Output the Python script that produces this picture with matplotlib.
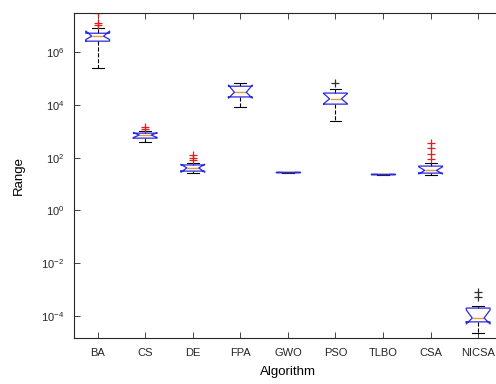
import matplotlib.pyplot as plt
import numpy as np

plt.rcParams['font.family'] = ['Liberation Sans', 'DejaVu Sans']
plt.rcParams['mathtext.default'] = 'regular'

algorithms = ['BA', 'CS', 'DE', 'FPA', 'GWO', 'PSO', 'TLBO', 'CSA', 'NICSA']

# box statistics per algorithm (range values, log scale)
q1 = [2.6e6, 5.5e2, 31, 2.0e4, 27.5, 1.07e4, 23.5, 26, 6.0e-5]
med = [4.0e6, 7.2e2, 41, 3.0e4, 28, 1.7e4, 24, 33, 8.4e-5]
q3 = [5.2e6, 8.5e2, 53, 5.1e4, 28.5, 2.8e4, 24.5, 48, 2.0e-4]
ci_lo = [3.0e6, 5.8e2, 28, 1.8e4, 28, 1.1e4, 24, 24, 5.0e-5]
ci_hi = [6.3e6, 8.8e2, 56, 5.6e4, 28, 2.7e4, 24, 45, 1.7e-4]
whis_lo = [2.5e5, 3.9e2, 26, 8.3e3, 27, 2.4e3, 23, 22, 2.3e-5]
whis_hi = [8.1e6, 1.0e3, 63, 6.7e4, 29, 4.0e4, 25, 63, 2.4e-4]
outliers = [
    [1.1e7, 1.3e7, 3.0e7],
    [1.2e3, 1.45e3],
    [81, 96, 126],
    [],
    [],
    [6.8e4],
    [],
    [89, 137, 230, 355],
    [5.2e-4, 8.1e-4],
]
flier_red = [True, True, True, False, False, False, False, True, False]

stats = []
for i, name in enumerate(algorithms):
    stats.append(dict(label=name, q1=q1[i], med=med[i], q3=q3[i],
                      cilo=ci_lo[i], cihi=ci_hi[i],
                      whislo=whis_lo[i], whishi=whis_hi[i],
                      fliers=np.array(outliers[i])))

fig = plt.figure(figsize=(4.96, 3.84), dpi=100)
ax = fig.add_axes([0.149, 0.12, 0.863, 0.846])

bp = ax.bxp(stats, positions=np.arange(1, len(algorithms) + 1), widths=0.5,
            shownotches=True, patch_artist=False,
            boxprops=dict(color='#2a2ae0', linewidth=0.9, zorder=3),
            medianprops=dict(color='#e89a3c', linewidth=1.0, zorder=2),
            whiskerprops=dict(color='black', linewidth=0.8, linestyle='--'),
            capprops=dict(color='black', linewidth=0.8),
            flierprops=dict(marker='+', markersize=6, markeredgewidth=0.9,
                            linestyle='none'))
for fl, red in zip(bp['fliers'], flier_red):
    fl.set_markeredgecolor('#e02020' if red else '#303030')

# caps as wide as half the box
for cap in bp['caps']:
    x0, x1 = cap.get_xdata()
    c = (x0 + x1) / 2
    cap.set_xdata([c - 0.125, c + 0.125])

ax.set_yscale('log')
ax.set_ylim(10 ** -4.83, 10 ** 7.48)
ax.set_xlim(0.5, 9.5)
ax.set_yticks([1e-4, 1e-2, 1e0, 1e2, 1e4, 1e6])
ax.yaxis.set_minor_locator(plt.NullLocator())
ax.set_xticks(np.arange(1, 10))
ax.set_xticklabels(algorithms)
ax.tick_params(direction='in', length=4, width=0.6, labelsize=8,
               top=True, right=True, colors='#262626', pad=7)
for sp in ax.spines.values():
    sp.set_linewidth(0.8)
    sp.set_color('#262626')
ax.spines['right'].set_visible(False)

ax.set_xlabel('Algorithm', fontsize=9.5, labelpad=6)
ax.set_ylabel('Range', fontsize=9.5, labelpad=12)

plt.savefig('out.png', dpi=100)
